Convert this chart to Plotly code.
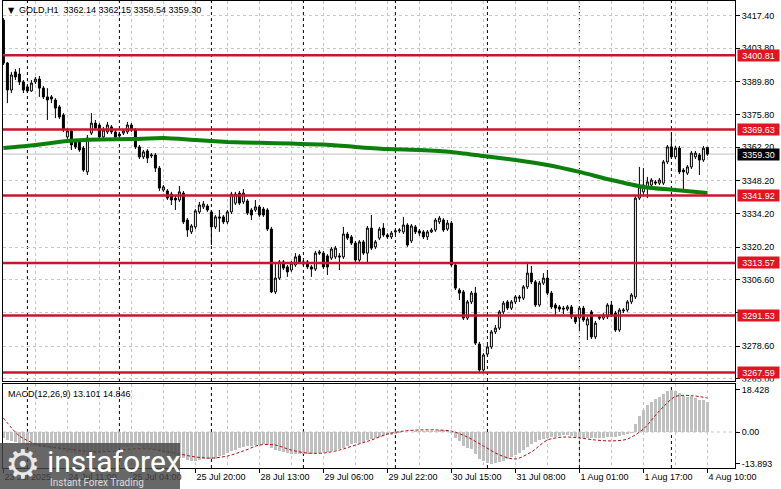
import plotly.graph_objects as go

# ---------------- data ----------------
opens = [3415.6, 3397.5, 3386.2, 3393.8, 3392.9, 3389.6, 3387.5, 3385.8, 3389.6, 3390.8,
         3387.0, 3383.3, 3383.3, 3382.0, 3379.1, 3375.7, 3366.5, 3369.0, 3364.4, 3364.4,
         3361.8, 3351.8, 3368.1, 3372.3, 3371.5, 3366.5, 3368.6, 3370.7, 3368.6, 3367.7,
         3368.1, 3368.6, 3371.5, 3369.4, 3362.3, 3358.1, 3360.6, 3358.5, 3358.9, 3353.4,
         3344.2, 3343.8, 3342.5, 3340.8, 3340.0, 3342.9, 3331.6, 3326.6, 3328.7, 3335.0,
         3337.1, 3337.5, 3335.0, 3328.7, 3332.9, 3332.9, 3330.8, 3335.0, 3338.7, 3342.9,
         3339.2, 3339.6, 3335.8, 3335.8, 3337.1, 3336.2, 3335.8, 3327.8, 3301.4, 3307.2,
         3314.0, 3311.9, 3310.6, 3312.7, 3316.5, 3314.0, 3314.0, 3311.9, 3311.0, 3318.2,
         3317.7, 3316.5, 3315.6, 3316.1, 3316.5, 3316.1, 3325.7, 3324.5, 3321.9, 3314.8,
         3322.4, 3317.7, 3328.2, 3320.3, 3324.0, 3328.2, 3325.3, 3324.5, 3326.6, 3327.0,
         3326.6, 3329.5, 3322.8, 3328.7, 3327.0, 3326.6, 3324.5, 3326.6, 3327.4, 3330.8,
         3331.6, 3327.8, 3330.3, 3312.7, 3302.2, 3301.4, 3290.4, 3297.2, 3300.9, 3279.5,
         3268.6, 3275.3, 3278.3, 3284.6, 3286.2, 3293.0, 3297.2, 3294.6, 3297.2, 3299.3,
         3298.8, 3303.5, 3309.3, 3305.6, 3295.9, 3305.1, 3307.2, 3300.9, 3295.9, 3295.1,
         3294.6, 3294.2, 3295.1, 3290.9, 3290.4, 3294.6, 3287.5, 3293.0, 3282.5, 3290.9,
         3290.4, 3290.9, 3295.9, 3292.5, 3285.4, 3293.4, 3293.8, 3297.2, 3299.3, 3340.8,
         3343.4, 3345.0, 3346.3, 3347.6, 3347.1, 3347.1, 3356.0, 3362.3, 3358.1, 3361.8,
         3352.6, 3351.3, 3353.9, 3358.1, 3358.9, 3356.8, 3362.14]
highs = [3416.4, 3398.0, 3393.8, 3395.0, 3395.4, 3390.4, 3388.3, 3390.4, 3391.7, 3392.1,
         3387.9, 3387.0, 3384.1, 3382.8, 3379.9, 3376.5, 3370.2, 3369.8, 3365.2, 3365.2,
         3362.7, 3367.3, 3376.5, 3373.6, 3372.3, 3370.7, 3372.8, 3371.5, 3369.4, 3368.6,
         3369.4, 3372.8, 3372.3, 3370.2, 3363.1, 3361.0, 3361.4, 3359.7, 3359.7, 3354.3,
         3346.3, 3344.6, 3343.4, 3341.7, 3345.9, 3343.8, 3332.4, 3329.9, 3336.2, 3339.2,
         3339.6, 3338.3, 3335.8, 3333.7, 3335.8, 3333.7, 3335.8, 3343.4, 3343.4, 3343.8,
         3344.6, 3340.4, 3336.6, 3340.0, 3337.9, 3337.1, 3336.6, 3328.7, 3314.0, 3314.8,
         3314.8, 3312.7, 3314.4, 3317.7, 3317.3, 3314.8, 3314.8, 3312.7, 3318.6, 3319.0,
         3318.6, 3317.3, 3320.3, 3320.7, 3317.7, 3328.7, 3326.6, 3325.3, 3322.8, 3323.2,
         3323.2, 3329.1, 3333.7, 3323.2, 3328.7, 3330.3, 3326.1, 3327.0, 3327.8, 3328.2,
         3332.9, 3330.3, 3329.9, 3329.5, 3327.8, 3327.4, 3327.4, 3328.2, 3332.4, 3333.3,
         3332.4, 3331.6, 3331.2, 3313.5, 3303.0, 3302.2, 3298.0, 3301.8, 3303.5, 3280.4,
         3275.7, 3279.1, 3285.4, 3287.5, 3293.8, 3297.6, 3298.0, 3298.0, 3300.1, 3300.1,
         3304.3, 3314.0, 3312.3, 3306.4, 3306.0, 3309.3, 3310.6, 3301.8, 3296.7, 3295.9,
         3295.5, 3295.9, 3295.9, 3291.7, 3295.5, 3295.5, 3290.9, 3293.8, 3289.2, 3291.7,
         3292.5, 3296.7, 3297.6, 3293.4, 3294.6, 3294.6, 3298.0, 3300.9, 3341.7, 3353.9,
         3353.4, 3349.7, 3349.2, 3348.4, 3349.2, 3356.8, 3363.1, 3368.1, 3362.7, 3362.7,
         3353.4, 3354.7, 3360.6, 3360.6, 3359.7, 3362.7, 3362.15]
lows = [3396.7, 3380.7, 3384.9, 3390.4, 3388.3, 3384.9, 3384.9, 3385.4, 3388.7, 3383.3,
        3382.4, 3373.6, 3380.7, 3374.4, 3374.0, 3368.6, 3365.6, 3361.0, 3361.4, 3360.2,
        3351.8, 3350.5, 3367.3, 3369.4, 3365.6, 3365.6, 3367.7, 3367.7, 3365.6, 3366.0,
        3367.3, 3367.7, 3368.6, 3361.4, 3357.2, 3357.2, 3355.5, 3357.6, 3351.8, 3343.8,
        3343.4, 3340.0, 3337.9, 3335.8, 3339.2, 3329.9, 3324.5, 3325.7, 3327.8, 3334.1,
        3336.2, 3335.0, 3321.1, 3327.8, 3326.6, 3329.9, 3329.9, 3334.1, 3337.9, 3337.9,
        3338.3, 3333.7, 3331.6, 3335.0, 3332.9, 3332.9, 3327.0, 3300.9, 3300.5, 3306.4,
        3310.6, 3307.7, 3309.8, 3311.9, 3313.1, 3312.3, 3311.0, 3307.7, 3310.2, 3316.9,
        3311.0, 3308.5, 3314.8, 3315.2, 3310.6, 3315.2, 3323.2, 3321.1, 3314.0, 3314.0,
        3316.9, 3313.5, 3319.0, 3319.4, 3323.2, 3324.5, 3323.6, 3323.6, 3325.7, 3326.1,
        3325.7, 3320.3, 3321.9, 3325.7, 3324.9, 3323.6, 3323.2, 3326.1, 3326.6, 3329.9,
        3326.6, 3327.0, 3311.9, 3302.2, 3298.0, 3289.6, 3289.6, 3296.3, 3279.1, 3267.8,
        3267.8, 3274.5, 3277.4, 3283.7, 3285.4, 3292.1, 3293.8, 3293.8, 3296.3, 3297.2,
        3298.0, 3302.6, 3304.7, 3295.1, 3295.1, 3304.3, 3300.1, 3294.2, 3291.7, 3293.0,
        3292.1, 3293.4, 3290.0, 3287.9, 3285.4, 3288.8, 3281.2, 3281.6, 3281.6, 3289.6,
        3289.6, 3290.0, 3290.9, 3284.6, 3284.6, 3292.5, 3293.0, 3296.3, 3298.4, 3340.0,
        3342.1, 3340.8, 3344.2, 3346.3, 3346.3, 3346.3, 3355.1, 3357.2, 3357.2, 3350.9,
        3344.2, 3350.5, 3353.0, 3357.2, 3350.5, 3356.0, 3358.54]
closes = [3397.5, 3386.2, 3392.5, 3391.7, 3389.6, 3386.2, 3385.8, 3389.1, 3390.8, 3387.0,
          3383.3, 3382.0, 3382.4, 3378.6, 3374.9, 3369.4, 3369.0, 3363.1, 3362.3, 3361.0,
          3352.6, 3366.0, 3372.3, 3370.2, 3366.5, 3369.4, 3371.5, 3368.6, 3366.5, 3366.9,
          3369.0, 3371.5, 3369.4, 3362.3, 3358.1, 3360.2, 3357.6, 3358.9, 3353.4, 3345.0,
          3345.5, 3340.8, 3340.0, 3340.0, 3343.4, 3330.8, 3327.4, 3329.1, 3335.4, 3337.9,
          3338.3, 3335.8, 3328.7, 3332.9, 3332.4, 3330.8, 3335.0, 3342.5, 3342.5, 3338.7,
          3342.9, 3334.5, 3333.7, 3337.1, 3333.7, 3333.7, 3327.8, 3301.4, 3307.2, 3314.0,
          3311.4, 3309.8, 3313.5, 3316.1, 3314.0, 3313.1, 3311.9, 3311.0, 3317.7, 3317.7,
          3311.9, 3311.9, 3319.4, 3319.8, 3316.1, 3325.7, 3324.0, 3321.9, 3314.8, 3322.4,
          3317.7, 3328.2, 3319.8, 3322.4, 3327.8, 3325.3, 3324.5, 3326.1, 3327.0, 3327.4,
          3329.5, 3321.1, 3329.1, 3326.6, 3326.1, 3324.5, 3326.6, 3327.4, 3331.6, 3332.4,
          3327.4, 3330.3, 3312.7, 3303.0, 3300.9, 3290.4, 3297.2, 3300.9, 3279.9, 3268.6,
          3274.9, 3278.3, 3284.6, 3286.2, 3293.0, 3296.7, 3294.6, 3297.2, 3299.3, 3298.8,
          3303.5, 3309.3, 3305.6, 3295.9, 3305.1, 3307.2, 3300.9, 3295.1, 3294.6, 3294.2,
          3294.2, 3295.1, 3290.9, 3288.8, 3294.6, 3289.6, 3290.0, 3282.5, 3288.3, 3290.4,
          3291.7, 3295.9, 3291.7, 3285.4, 3293.8, 3293.8, 3297.2, 3300.1, 3340.8, 3345.5,
          3346.3, 3347.6, 3348.4, 3347.1, 3348.4, 3356.0, 3362.3, 3358.1, 3361.8, 3351.8,
          3351.8, 3353.9, 3359.7, 3359.7, 3356.8, 3361.8, 3359.30]

# 200-period moving average (green), read every 8 bars
ma_bars = [0, 8, 16, 24, 32, 40, 48, 56, 64, 72, 80, 88, 96, 104, 112, 120, 128, 136, 144, 152, 160, 168, 176]
ma_vals = [3361.8, 3363.1, 3364.8, 3365.4, 3365.6, 3366.0, 3365.2, 3364.4, 3364.0, 3363.7, 3363.3, 3362.3,
           3361.4, 3361.0, 3360.2, 3358.5, 3356.8, 3354.7, 3351.8, 3348.4, 3345.5, 3344.2, 3342.9]

# MACD(12,26,9) main values (histogram), one per bar
macd_main = [-2.6, -3.5, -3.9, -4.4, -4.8, -5.2, -5.7, -6.1, -6.1, -6.6, -6.6,
             -7.0, -7.3, -7.5, -7.8, -8.2, -8.7, -9.0, -9.4, -9.7, -10.0,
             -10.5, -10.2, -9.6, -9.1, -8.7, -8.2, -7.7, -7.3, -7.0, -6.7, -6.4, -6.0, -5.8,
             -6.2, -6.8, -7.1, -7.5, -7.8, -8.4, -9.3, -9.8, -10.4, -10.9, -11.3, -11.5, -12.3,
             -12.5, -12.6, -12.3, -12.0, -11.8, -11.6, -11.8,
             -10.4, -9.9, -9.3, -8.5, -7.8, -7.2, -6.6, -6.2, -5.9, -5.6, -5.5, -5.4, -5.6,
             -7.0, -7.9, -8.3, -8.7, -9.1, -9.4, -9.5, -9.6, -9.7, -9.7, -9.6, -9.3, -9.0,
             -8.9, -8.8, -8.4, -8.0, -7.6, -6.8, -6.0, -5.4, -5.0, -4.6, -4.3, -3.6, -3.2,
             -2.8, -2.3, -1.8, -1.5, -1.1, -0.7, -0.4, 0.0, 0.0, 0.2, 0.3, 0.4, 0.4, 0.3,
             0.4, 0.6, 0.8, 0.8, 0.9, -0.5, -2.5, -4.0, -5.9, -6.9, -7.4, -9.5, -11.8,
             -12.8, -13.5, -13.9, -13.6, -13.2, -12.6, -11.9, -11.0, -10.0, -9.0, -7.8,
             -6.6, -5.4, -4.4, -3.6, -3.0, -2.6, -2.3, -2.0, -1.8, -1.5, -1.5, -1.7, -2.0,
             -2.2, -2.4, -2.6, -2.8, -2.8, -2.6, -2.4, -2.2, -2.0, -2.1, -1.9, -1.5, -1.0,
             -0.5, 3.3, 7.0, 9.8, 11.8, 13.3, 14.4, 15.4, 16.8, 18.0, 18.428, 18.1, 16.9,
             15.9, 15.4, 15.6, 15.0, 14.0, 13.8, 13.101]
# MACD signal (dotted), read every 4 bars
sig_bars = list(range(0, 177, 4))
sig_vals = [6.1, -1.7, -5.2, -6.6, -7.4, -8.3, -8.7, -8.3, -7.4, -7.4, -8.3, -9.6, -10.9, -11.4, -10.5,
            -8.3, -5.7, -5.7, -7.9, -9.2, -9.2, -7.9, -5.7, -3.5, -0.9, 0.4, 0.9, 0.9, 0.4, -2.2,
            -6.1, -10.0, -11.8, -8.7, -3.5, -2.2, -2.6, -3.5, -3.9, -3.1, 1.3, 9.2, 15.5, 15.9, 14.846]

levels = [3400.81, 3369.63, 3341.92, 3313.57, 3291.53, 3267.59]
last_price = 3359.30

price_ticks = [3417.40, 3403.80, 3389.80, 3375.80, 3362.20, 3348.20, 3334.20, 3320.20,
               3306.60, 3292.60, 3278.60, 3265.00]
macd_ticks = [18.428, 0.0, -13.893]
macd_tick_text = ["18.428", "0.00", "-13.893"]

time_label_bars = [0, 16, 32, 48, 64, 80, 96, 112, 128, 144, 160, 176]
time_labels = ["23 Jul 2025", "24 Jul 11:00", "25 Jul 04:00", "25 Jul 20:00", "28 Jul 13:00",
               "29 Jul 06:00", "29 Jul 22:00", "30 Jul 15:00", "31 Jul 08:00", "1 Aug 01:00",
               "1 Aug 17:00", "4 Aug 10:00"]
day_separator_bars = [6, 29, 52, 75, 98, 121, 144, 167]

header = "GOLD,H1  3362.14 3362.15 3358.54 3359.30"
macd_header = "MACD(12,26,9) 13.101 14.846"

# ---------------- layout geometry ----------------
W, H = 781, 489
ML, MR, MT, MB = 3, 46, 1, 21
PW = W - ML - MR
PH = H - MT - MB


def px_x(X):
    return (X - ML) / PW


def px_y(Y):
    return (H - MB - Y) / PH


FONT = "Liberation Sans, Arial, sans-serif"
GRID = "#c6c6c6"
LEVEL_LINE = "#c8162c"
LEVEL_BOX = "#e3141f"

bars = list(range(len(closes)))

fig = go.Figure()

fig.add_trace(go.Candlestick(
    x=bars, open=opens, high=highs, low=lows, close=closes,
    increasing=dict(line=dict(color="black", width=1), fillcolor="white"),
    decreasing=dict(line=dict(color="black", width=1), fillcolor="black"),
    whiskerwidth=0, hoverinfo="skip", showlegend=False,
    xaxis="x", yaxis="y"))

fig.add_trace(go.Scatter(
    x=ma_bars, y=ma_vals, mode="lines", line=dict(color="#0c800c", width=4, shape="spline", smoothing=0.6),
    hoverinfo="skip", showlegend=False, xaxis="x", yaxis="y"))

fig.add_trace(go.Bar(
    x=bars, y=macd_main, marker=dict(color="#c0c0c0", line=dict(width=0)), width=0.55,
    hoverinfo="skip", showlegend=False, xaxis="x2", yaxis="y2"))

fig.add_trace(go.Scatter(
    x=sig_bars, y=sig_vals, mode="lines",
    line=dict(color="#b01010", width=1, dash="3px,2px", shape="spline", smoothing=0.8),
    hoverinfo="skip", showlegend=False, xaxis="x2", yaxis="y2"))

xr = [-0.1, 182.9]
major = time_label_bars
minor_vals = list(range(0, 181, 8))

common_x = dict(
    range=xr, showline=True, linecolor="black", linewidth=1, mirror=True, automargin=False,
    tickmode="array", tickvals=major, showgrid=True, gridcolor=GRID, griddash="3px,3px", gridwidth=1,
    minor=dict(tickmode="array", tickvals=minor_vals, showgrid=True, gridcolor=GRID,
               griddash="3px,3px", gridwidth=1, ticks=""),
    zeroline=False, fixedrange=True, rangeslider=dict(visible=False))

fig.update_layout(
    width=W, height=H,
    margin=dict(l=ML, r=MR, t=MT, b=MB, autoexpand=False),
    paper_bgcolor="white", plot_bgcolor="white",
    font=dict(family=FONT, size=9, color="black"),
    showlegend=False,
    xaxis=dict(**common_x, anchor="y", ticks="", showticklabels=False),
    xaxis2=dict(**common_x, anchor="y2", matches="x", ticks="outside", ticklen=4, tickcolor="black",
                ticktext=time_labels, showticklabels=True, ticklabelposition="outside right",
                tickfont=dict(size=9, family=FONT, color="black")),
    yaxis=dict(domain=[px_y(381), 1], range=[3263.98, 3423.58], side="right", automargin=False,
               tickmode="array", tickvals=price_ticks, ticktext=[f"{v:.2f}" for v in price_ticks],
               ticks="outside", ticklen=4, tickcolor="black",
               showgrid=True, gridcolor=GRID, griddash="3px,3px", gridwidth=1,
               showline=True, linecolor="black", mirror=True, zeroline=False, fixedrange=True,
               tickfont=dict(size=9, family=FONT, color="black")),
    yaxis2=dict(domain=[0, px_y(384)], range=[-15.72, 20.96], side="right", automargin=False,
                tickmode="array", tickvals=macd_ticks, ticktext=macd_tick_text,
                ticks="outside", ticklen=4, tickcolor="black", showgrid=False,
                showline=True, linecolor="black", mirror=True, zeroline=False, fixedrange=True,
                tickfont=dict(size=9, family=FONT, color="black")),
    bargap=0,
)

shapes = []
# day separators (black dashed) in both panes
for b in day_separator_bars:
    for yr in ("y", "y2"):
        rng = (3263.98, 3423.58) if yr == "y" else (-15.72, 20.96)
        shapes.append(dict(type="line", xref="x", yref=yr, x0=b, x1=b, y0=rng[0], y1=rng[1],
                           line=dict(color="black", width=1, dash="3px,3px"), layer="below"))
# MACD zero line
shapes.append(dict(type="line", xref="paper", yref="y2", x0=0, x1=px_x(740), y0=0, y1=0,
                   line=dict(color=GRID, width=1, dash="3px,3px"), layer="below"))
# bid line
shapes.append(dict(type="line", xref="paper", yref="y", x0=0, x1=1, y0=last_price, y1=last_price,
                   line=dict(color="#c0c0c0", width=1), layer="below"))
# support / resistance levels
for lv in levels:
    shapes.append(dict(type="line", xref="paper", yref="y", x0=0, x1=1, y0=lv, y1=lv,
                       line=dict(color=LEVEL_LINE, width=2.5), layer="above"))
# hide lower half of the clipped bottom price label
shapes.append(dict(type="rect", xref="paper", yref="paper", x0=px_x(736), x1=px_x(781),
                   y0=px_y(386), y1=px_y(381.5), fillcolor="white", line=dict(width=0), layer="above"))
# watermark logo box
shapes.append(dict(type="rect", xref="paper", yref="paper", x0=px_x(0), x1=px_x(180),
                   y0=px_y(489), y1=px_y(443), fillcolor="rgba(70,70,70,0.82)",
                   line=dict(width=0), layer="above"))
fig.update_layout(shapes=shapes)

ann = []
ann.append(dict(xref="paper", yref="paper", x=px_x(6), y=px_y(10), xanchor="left", yanchor="middle",
                text="\u25bc", showarrow=False, font=dict(size=8, family="DejaVu Sans", color="black")))
ann.append(dict(xref="paper", yref="paper", x=px_x(17), y=px_y(10), xanchor="left", yanchor="middle",
                text=header, showarrow=False, font=dict(size=9, family=FONT, color="black")))
ann.append(dict(xref="paper", yref="paper", x=px_x(6), y=px_y(394), xanchor="left", yanchor="middle",
                text=macd_header, showarrow=False, font=dict(size=9, family=FONT, color="black")))
for lv in levels:
    ann.append(dict(xref="paper", yref="y", x=px_x(737), y=lv, xanchor="left", yanchor="middle",
                    text=f"{lv:.2f}", showarrow=False, bgcolor=LEVEL_BOX, width=41, height=11,
                    borderpad=0, font=dict(size=9, family=FONT, color="white")))
ann.append(dict(xref="paper", yref="y", x=px_x(737), y=last_price, xanchor="left", yanchor="middle",
                text=f"{last_price:.2f}", showarrow=False, bgcolor="black", width=41, height=11,
                borderpad=0, font=dict(size=9, family=FONT, color="white")))
# logo texts
ann.append(dict(xref="paper", yref="paper", x=px_x(23), y=px_y(464), xanchor="center", yanchor="middle",
                text="\u2699", showarrow=False, font=dict(size=40, family="DejaVu Sans", color="#e8e8e8")))
ann.append(dict(xref="paper", yref="paper", x=px_x(45), y=px_y(461), xanchor="left", yanchor="middle",
                text="instaforex", showarrow=False, font=dict(size=30, family="Roboto", color="white")))
ann.append(dict(xref="paper", yref="paper", x=px_x(48), y=px_y(482), xanchor="left", yanchor="middle",
                text="Instant Forex Trading", showarrow=False, font=dict(size=10, family="Roboto", color="#dddddd")))
fig.update_layout(annotations=ann)

fig.write_html("out.html", config={"displayModeBar": False, "staticPlot": True},
               post_script="document.body.style.margin='0';document.body.style.padding='0';"
                           "document.documentElement.style.overflow='hidden';")
